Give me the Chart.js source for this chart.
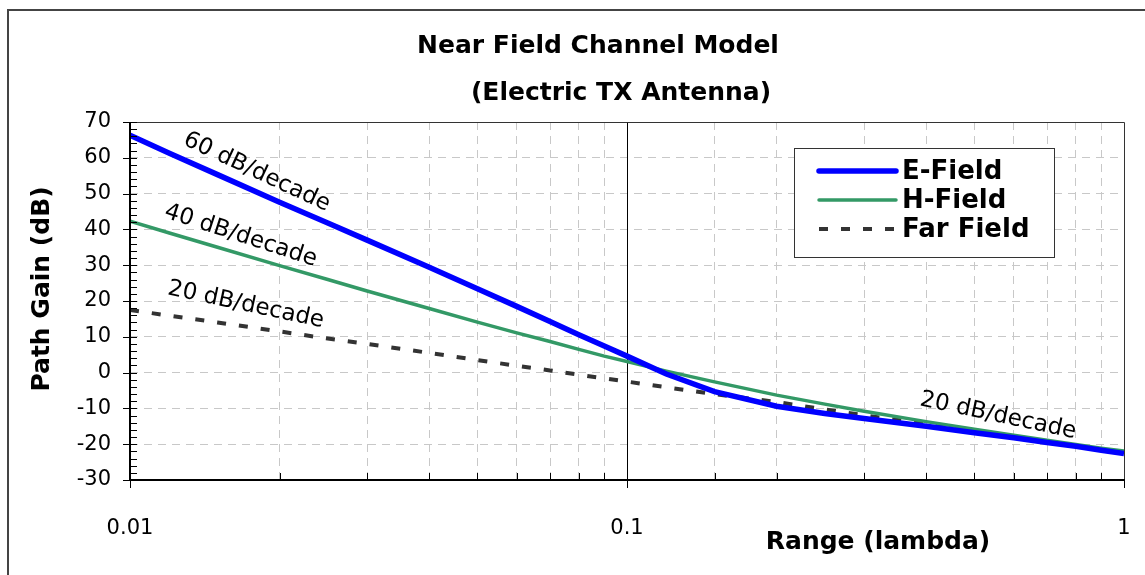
<!DOCTYPE html>
<html lang="en">
<head>
  <meta charset="UTF-8" />
  <title>Near Field Channel Model</title>
  <script src="https://cdn.jsdelivr.net/npm/chart.js"></script>
  <style>
    html, body { margin: 0; padding: 0; background: #fff; }
    #wrap { width: 1145px; height: 575px; position: relative; }
  </style>
</head>
<body>
  <div id="wrap"><canvas id="chart"></canvas></div>
  <script>
    // range in wavelengths
    const range = [0.01, 0.012, 0.015, 0.02, 0.025, 0.03, 0.04, 0.05, 0.06, 0.07, 0.08, 0.09,
                   0.1, 0.12, 0.15, 0.2, 0.25, 0.3, 0.4, 0.5, 0.6, 0.7, 0.8, 0.9, 1];
    // path gain (dB)
    const eField = [66.3, 61.3, 55.3, 47.6, 41.8, 37.0, 29.4, 23.4, 18.5, 14.3, 10.6, 7.4,
                    4.6, -0.4, -5.3, -9.4, -11.4, -12.8, -15.0, -16.8, -18.2, -19.5, -20.6, -21.7, -22.6];
    const hField = [42.3, 39.0, 35.0, 29.9, 26.0, 22.8, 17.9, 14.1, 11.1, 8.7, 6.5, 4.6,
                    3.1, 0.4, -2.6, -6.3, -8.8, -10.8, -13.7, -15.8, -17.5, -18.9, -20.1, -21.1, -21.9];
    const farField = [17.5, 15.9, 14.0, 11.5, 9.5, 8.0, 5.5, 3.5, 1.9, 0.6, -0.6, -1.6,
                      -2.5, -4.1, -6.0, -8.2, -10.3, -11.9, -14.4, -16.4, -18.0, -19.3, -20.5, -21.5, -22.4];
    const seriesNames = ["E-Field", "H-Field", "Far Field"];
    const yTicks = [-30, -20, -10, 0, 10, 20, 30, 40, 50, 60, 70];

    // slope notes: [text, range, gain, angle deg]
    const notes = [
      ["60 dB/decade", 0.018, 56, 25],
      ["40 dB/decade", 0.0167, 38.2, 18],
      ["20 dB/decade", 0.0171, 18.9, 12],
      ["20 dB/decade", 0.558, -12.1, 12]
    ];

    const FONT = "'DejaVu Sans', sans-serif";

    const pts = ys => range.map((x, i) => ({ x: x, y: ys[i] }));

    const isDecade = v => Math.abs(Math.log10(v) - Math.round(Math.log10(v))) < 1e-6;

    const extras = {
      id: "extras",
      beforeDatasetsDraw(chart) {
        const { ctx, chartArea: a, scales: { x } } = chart;
        // solid line at 0.1
        ctx.save();
        ctx.strokeStyle = "#000";
        ctx.lineWidth = 1;
        const px = Math.round(x.getPixelForValue(0.1)) + 0.5;
        ctx.beginPath(); ctx.moveTo(px, a.top); ctx.lineTo(px, a.bottom); ctx.stroke();
        ctx.restore();
      },
      afterDraw(chart) {
        const { ctx, chartArea: a, scales: { x, y } } = chart;
        ctx.save();
        // outer frame (top + left visible)
        ctx.strokeStyle = "#444"; ctx.lineWidth = 2;
        ctx.beginPath(); ctx.moveTo(8, 600); ctx.lineTo(8, 10); ctx.lineTo(1200, 10); ctx.stroke();

        // plot border: top/right
        ctx.strokeStyle = "#333"; ctx.lineWidth = 1;
        ctx.beginPath();
        ctx.moveTo(a.left, a.top + 0.5); ctx.lineTo(a.right + 0.5, a.top + 0.5); ctx.lineTo(a.right + 0.5, a.bottom);
        ctx.stroke();
        // left/bottom axes
        ctx.strokeStyle = "#000"; ctx.lineWidth = 2;
        ctx.beginPath();
        ctx.moveTo(a.left, a.top); ctx.lineTo(a.left, a.bottom); ctx.lineTo(a.right + 1, a.bottom);
        ctx.stroke();

        // y ticks
        ctx.lineWidth = 1;
        ctx.beginPath();
        for (let v = -30; v <= 70; v += 2) {
          const py = Math.round(y.getPixelForValue(v)) + 0.5;
          const major = v % 10 === 0;
          ctx.moveTo(major ? a.left - 7 : a.left, py);
          ctx.lineTo(a.left + 7, py);
        }
        // x ticks
        x.ticks.forEach(t => {
          const px = Math.round(x.getPixelForValue(t.value)) + 0.5;
          if (isDecade(t.value)) {
            ctx.moveTo(px, a.bottom); ctx.lineTo(px, a.bottom + 8);
          } else {
            ctx.moveTo(px, a.bottom); ctx.lineTo(px, a.bottom - 7);
          }
        });
        ctx.stroke();

        // title
        ctx.fillStyle = "#000";
        ctx.textAlign = "center"; ctx.textBaseline = "middle";
        ctx.font = "bold 25px " + FONT;
        ctx.fillText("Near Field Channel Model", 598, 46);
        ctx.fillText("(Electric TX Antenna)", 621, 93);

        // axis titles
        ctx.font = "bold 25px " + FONT;
        ctx.fillText("Range (lambda)", 878, 542);
        ctx.save();
        ctx.translate(42, 289); ctx.rotate(-Math.PI / 2);
        ctx.fillText("Path Gain (dB)", 0, 0);
        ctx.restore();

        // slope notes
        ctx.font = "23px " + FONT;
        notes.forEach(([txt, nx, ny, ang]) => {
          ctx.save();
          ctx.translate(x.getPixelForValue(nx), y.getPixelForValue(ny));
          ctx.rotate(ang * Math.PI / 180);
          ctx.fillText(txt, 0, 0);
          ctx.restore();
        });

        // legend
        const lx = 794, ly = 148, lw = 260, lh = 109;
        ctx.fillStyle = "#fff";
        ctx.fillRect(lx, ly, lw, lh);
        ctx.strokeStyle = "#333"; ctx.lineWidth = 1;
        ctx.strokeRect(lx + 0.5, ly + 0.5, lw, lh);
        ctx.font = "bold 26px " + FONT;
        ctx.textAlign = "left";
        chart.data.datasets.forEach((ds, i) => {
          const ry = ly + 23 + i * 29;
          ctx.strokeStyle = ds.borderColor;
          ctx.lineWidth = ds.borderWidth;
          ctx.lineCap = ds.borderDash ? "butt" : "round";
          ctx.setLineDash(ds.borderDash || []);
          ctx.beginPath(); ctx.moveTo(lx + 25, ry); ctx.lineTo(lx + 102, ry); ctx.stroke();
          ctx.setLineDash([]);
          ctx.fillStyle = "#000";
          ctx.fillText(ds.label, lx + 108, ry + 1);
        });
        ctx.restore();
      }
    };

    new Chart(document.getElementById("chart"), {
      type: "line",
      data: {
        datasets: [
          { label: seriesNames[0], data: pts(eField), borderColor: "#0000ff", borderWidth: 5.5 },
          { label: seriesNames[1], data: pts(hField), borderColor: "#339966", borderWidth: 3.5 },
          { label: seriesNames[2], data: pts(farField), borderColor: "#333333", borderWidth: 4, borderDash: [9, 13] }
        ]
      },
      options: {
        responsive: true,
        maintainAspectRatio: false,
        animation: false,
        layout: { padding: { top: 122, right: 21, left: 0, bottom: 0 } },
        elements: { point: { radius: 0 }, line: { tension: 0, fill: false } },
        plugins: { legend: { display: false }, tooltip: { enabled: false } },
        scales: {
          x: {
            type: "logarithmic",
            min: 0.01, max: 1,
            afterFit(s) { s.height = 95; s.paddingLeft = 0; s.paddingRight = 0; },
            border: { display: false, dash: [8, 6] },
            grid: {
              drawTicks: false,
              color: c => (c.tick && (isDecade(c.tick.value))) ? "rgba(0,0,0,0)" : "#c8c8c8"
            },
            ticks: {
              autoSkip: false, maxRotation: 0, padding: 36,
              color: "#000", font: { family: FONT, size: 21 },
              callback: v => isDecade(v) ? String(v) : ""
            }
          },
          y: {
            min: -30, max: 70,
            afterFit(s) { s.width = 130; s.paddingTop = 0; s.paddingBottom = 0; },
            afterBuildTicks(s) { s.ticks = yTicks.map(v => ({ value: v })); },
            border: { display: false, dash: [8, 6] },
            grid: {
              drawTicks: false,
              color: c => (c.tick && (c.tick.value === 70 || c.tick.value === -30)) ? "rgba(0,0,0,0)" : "#c8c8c8"
            },
            ticks: {
              padding: 19,
              color: "#000", font: { family: FONT, size: 21 }
            }
          }
        }
      },
      plugins: [extras]
    });
  </script>
</body>
</html>
